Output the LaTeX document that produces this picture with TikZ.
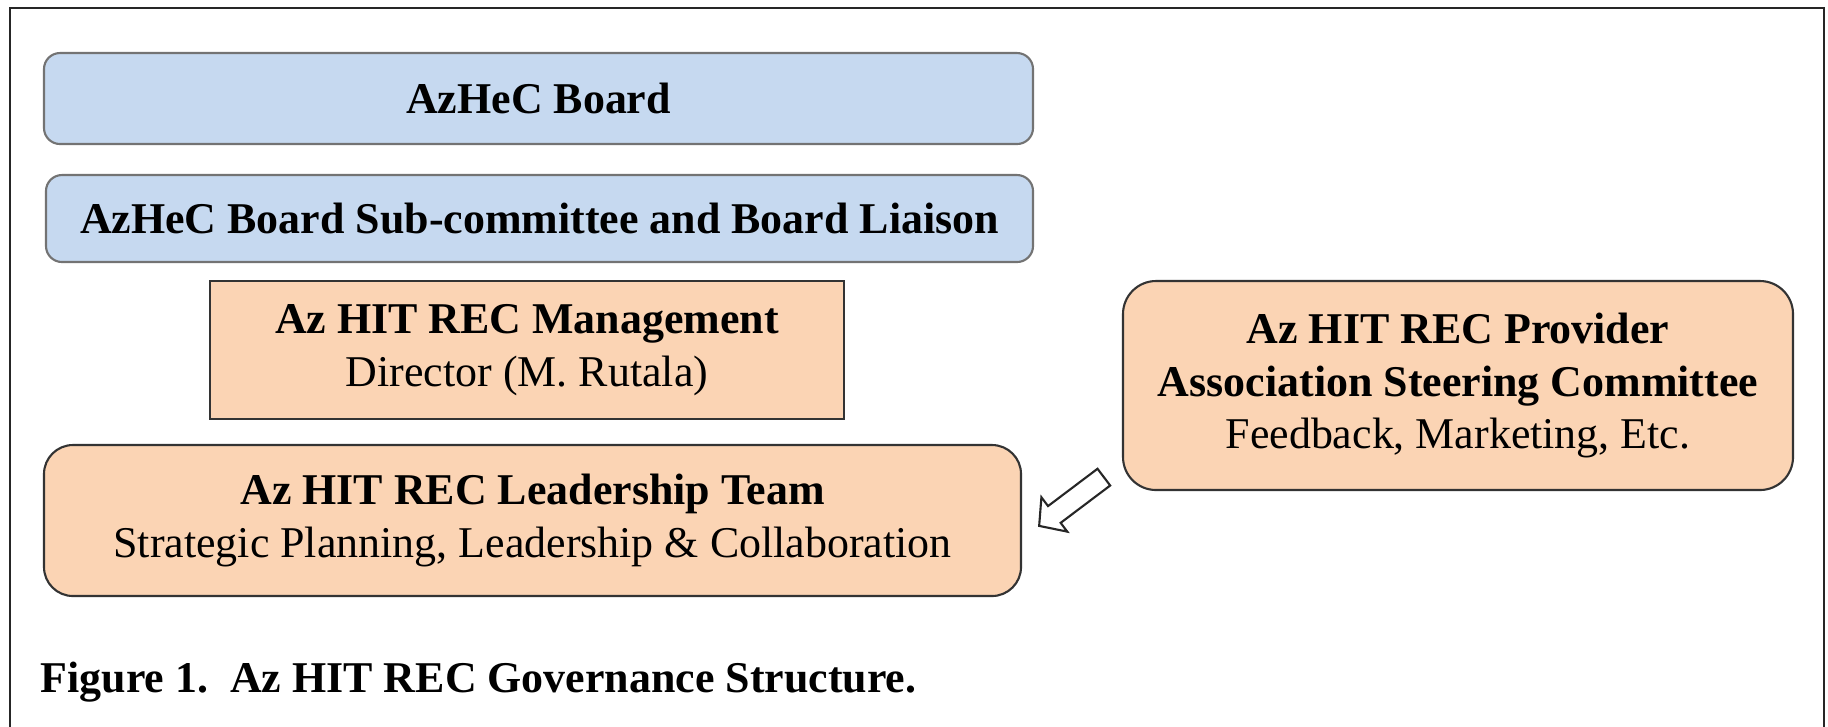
\documentclass[tikz,border=0pt]{standalone}
\usepackage{fontspec}
\setmainfont{Liberation Serif}
\usetikzlibrary{shapes,arrows,positioning,calc}
\definecolor{boardblue}{RGB}{198,217,240}
\definecolor{recpeach}{RGB}{251,212,180}

\begin{document}
\begin{tikzpicture}[
    font=\fontsize{12.5}{15}\selectfont,
    board/.style={draw=black!55, fill=boardblue, rounded corners=0.16cm, line width=0.6pt},
    rec/.style={draw=black!80, fill=recpeach, line width=0.6pt, align=center}
  ]
    \useasboundingbox (0,0) rectangle (18.28,-7.26);
    % outer frame, open at the bottom
    \draw[line width=0.8pt, black!85] (0.10,-7.40) |- (18.24,-0.08) -- (18.24,-7.40);

    \node[board, minimum width=9.89cm, minimum height=0.91cm] (brd) at (5.385,-0.985) {\textbf{AzHeC Board}};
    \node[board, minimum width=9.87cm, minimum height=0.87cm] (sub) at (5.395,-2.185) {\textbf{AzHeC Board Sub-committee and Board Liaison}};
    \node[rec, minimum width=6.34cm, minimum height=1.38cm] (mgmt) at (5.27,-3.50) {\textbf{Az HIT REC Management}\\Director (M. Rutala)};
    \node[rec, rounded corners=0.29cm, minimum width=9.77cm, minimum height=1.51cm] (lead) at (5.325,-5.205) {\textbf{Az HIT REC Leadership Team}\\Strategic Planning, Leadership \& Collaboration};
    \node[rec, rounded corners=0.33cm, minimum width=6.70cm, minimum height=2.09cm] (prov) at (14.58,-3.855) {\textbf{Az HIT REC Provider}\\\textbf{Association Steering Committee}\\Feedback, Marketing, Etc.};

    % hollow block arrow from provider committee to leadership team
    \begin{scope}[shift={(10.715,-5.015)}, rotate=217]
      \draw[black!85, fill=white, line width=0.6pt]
        (-0.405,-0.105) -- (0.215,-0.105) -- (0.215,-0.215) -- (0.405,0)
        -- (0.215,0.215) -- (0.215,0.105) -- (-0.405,0.105) -- cycle;
    \end{scope}

    \node[anchor=base west, inner sep=0pt] (cap) at (0.40,-6.92) {\textbf{Figure 1.\ \ Az HIT REC Governance Structure.}};
\end{tikzpicture}
\end{document}
